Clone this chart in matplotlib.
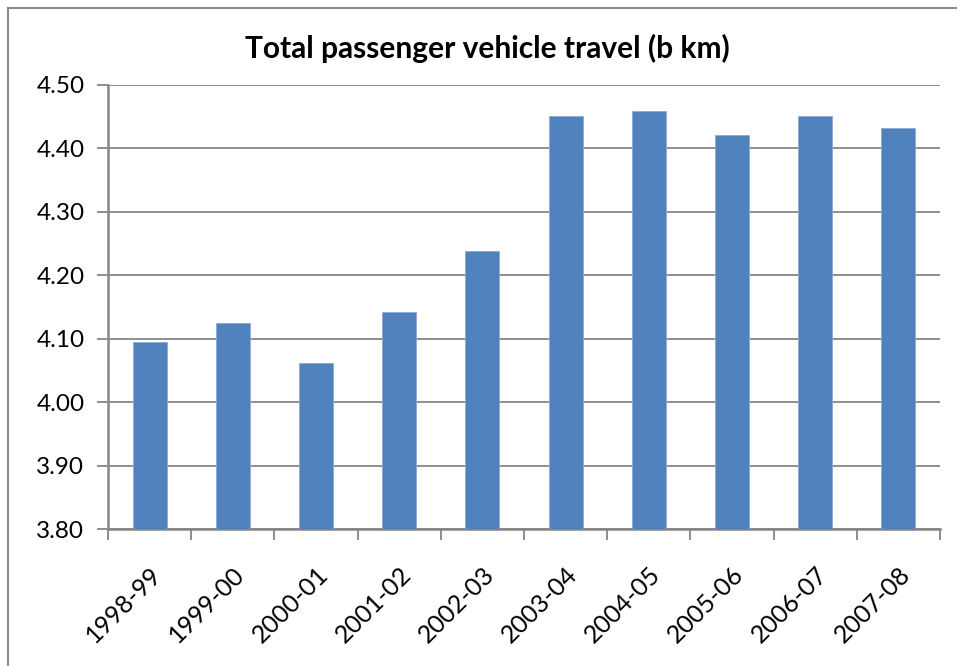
import matplotlib
matplotlib.use("Agg")
from matplotlib import pyplot as plt
from matplotlib.lines import Line2D

years = ["1998-99", "1999-00", "2000-01", "2001-02", "2002-03",
         "2003-04", "2004-05", "2005-06", "2006-07", "2007-08"]
travel = [4.095, 4.124, 4.061, 4.142, 4.238, 4.451, 4.458, 4.420, 4.451, 4.432]
y_ticks = [3.80, 3.90, 4.00, 4.10, 4.20, 4.30, 4.40, 4.50]

plt.rcParams['font.family'] = ['Lato', 'DejaVu Sans']

fig = plt.figure(figsize=(9.57, 6.66), dpi=100)
ax = fig.add_axes([108 / 957, 1 - 529 / 666, 832 / 957, 444.5 / 666])

x = range(len(years))
ax.bar(x, travel, width=0.41, color="#4F81BD", edgecolor="#8eaad6", linewidth=0.6, zorder=3)

ax.set_xlim(-0.5, len(years) - 0.5)
ax.set_ylim(3.80, 4.50)
ax.set_yticks(y_ticks)
ax.set_yticklabels([f"{v:.2f}" for v in y_ticks], fontsize=17.5)
ax.grid(axis="y", color="#868686", linewidth=1.3, zorder=0)

# x ticks on category boundaries, labels centered under bars
ax.set_xticks([i - 0.5 for i in range(len(years) + 1)])
ax.set_xticklabels([])
ax.set_xticks(list(x), minor=True)
ax.set_xticklabels(years, minor=True, rotation=45, ha="right", va="top",
                   rotation_mode="anchor", fontsize=18)
ax.tick_params(axis="x", which="minor", length=0, pad=24)
ax.tick_params(axis="x", which="major", length=8, width=1.3, color="#868686")
ax.tick_params(axis="y", length=8, width=1.3, color="#868686", pad=9)

for side in ["top", "right"]:
    ax.spines[side].set_visible(False)
for side in ["left", "bottom"]:
    ax.spines[side].set_color("#868686")
    ax.spines[side].set_linewidth(1.8)

fig.text(487 / 957, 1 - 48 / 666, "Total passenger vehicle travel (b km)",
         ha="center", va="center", fontsize=21.5, fontweight="bold")

# outer chart border (only top and left visible in the crop)
fig.add_artist(Line2D([8 / 957, 1], [1 - 8 / 666, 1 - 8 / 666], color="#8c8c8c", linewidth=1.5))
fig.add_artist(Line2D([8 / 957, 8 / 957], [0, 1 - 8 / 666], color="#8c8c8c", linewidth=1.5))

fig.savefig("out.png", dpi=100)
